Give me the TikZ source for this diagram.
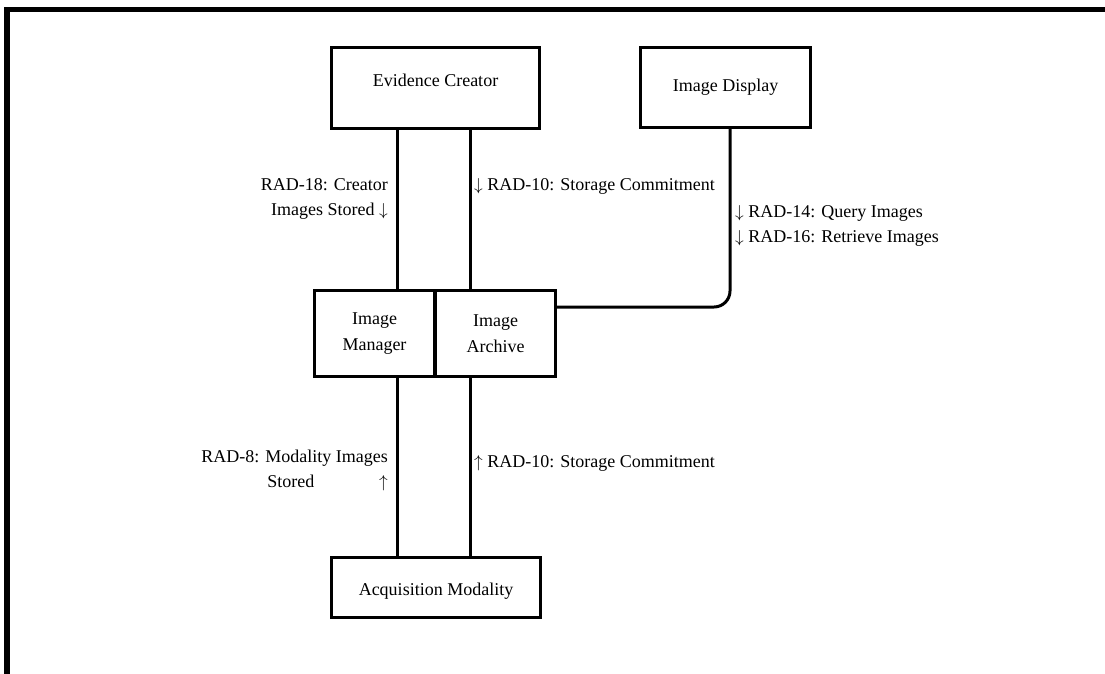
\documentclass[tikz,border=0pt]{standalone}
\usepackage{fontspec}
\setmainfont{Liberation Serif}
\newcommand{\dnarr}{$\downarrow$}
\newcommand{\uparr}{$\uparrow$}
\begin{document}
\begin{tikzpicture}[x=1pt,y=-1pt,
  box/.style={draw, line width=3.2pt, inner sep=0pt, align=center, font=\fontsize{18}{24.5}\selectfont},
  lbl/.style={inner sep=0pt, font=\fontsize{18}{25}\selectfont},
  conn/.style={line width=3pt},
  frame/.style={line width=5.5pt}]
\useasboundingbox (0,0) rectangle (1105,673);
\clip (0,0) rectangle (1105,673);
% outer frame
\coordinate (f1) at (7,700);
\coordinate (f2) at (7,9.5);
\coordinate (f3) at (1130,9.5);
\draw[frame] (f1) -- (f2) -- (f3);
% boxes
\node[box, minimum width=207.8pt, minimum height=80.8pt, text height=12pt, text depth=16pt] (EC) at (435.5,88) {Evidence Creator};
\node[box, minimum width=169.8pt, minimum height=79.8pt] (ID) at (725.5,87.5) {Image Display};
\node[box, minimum width=119.8pt, minimum height=85.8pt] (IM) at (374.5,333.5) {Image\\[1pt]Manager};
\node[box, minimum width=119.8pt, minimum height=85.8pt] (IA) at (495.5,333.5) {Image\\[1pt]Archive};
\node[box, minimum width=208.8pt, minimum height=59.8pt, text height=16pt, text depth=0pt] (AM) at (436,587.5) {Acquisition Modality};
% connector x positions
\coordinate (xA) at (397,0);
\coordinate (xB) at (470,0);
\coordinate (xC) at (730,0);
\coordinate (yH) at (0,307);
\draw[conn] (EC.south -| xA) -- (IM.north -| xA);
\draw[conn] (EC.south -| xB) -- (IA.north -| xB);
\draw[conn] (IM.south -| xA) -- (AM.north -| xA);
\draw[conn] (IA.south -| xB) -- (AM.north -| xB);
\draw[conn, rounded corners=16pt] (ID.south -| xC) |- (IA.east |- yH);
% labels
\node[lbl, anchor=east, align=right] (l18) at (388,199) {RAD-18: Creator\\Images Stored \dnarr};
\node[lbl, anchor=west] (l10a) at (474,186) {\dnarr\ RAD-10: Storage Commitment};
\node[lbl, anchor=west, align=left] (l14) at (735,226) {\dnarr\ RAD-14: Query Images\\\dnarr\ RAD-16: Retrieve Images};
\node[lbl, anchor=east, align=right] (l8) at (388,470) {RAD-8: Modality Images\\\hbox to 185pt{\hfill Stored\hfill \uparr}};
\node[lbl, anchor=west] (l10b) at (474,463) {\uparr\ RAD-10: Storage Commitment};
\end{tikzpicture}
\end{document}
